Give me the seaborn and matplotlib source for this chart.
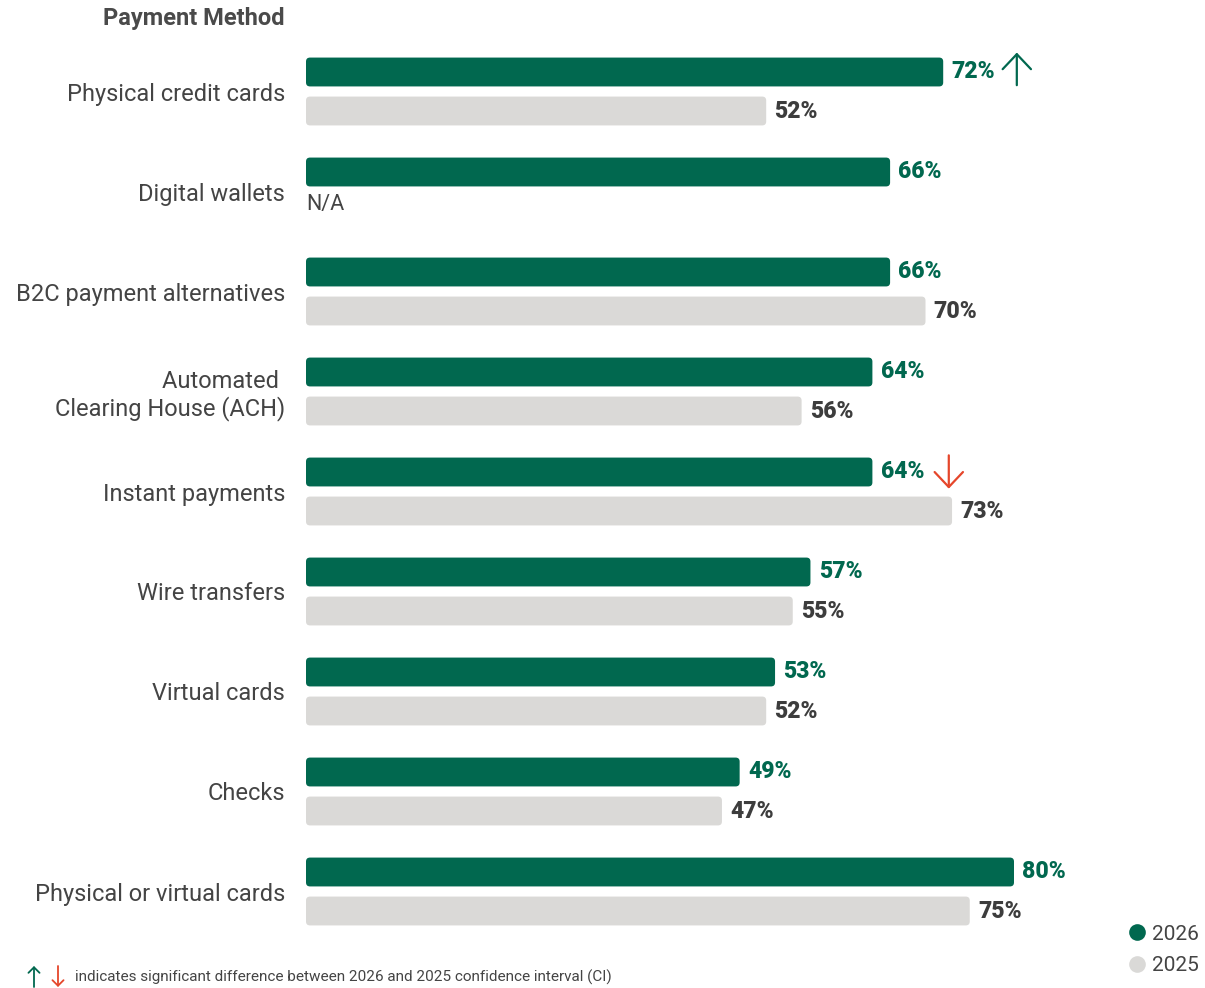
import matplotlib
matplotlib.use("Agg")
import matplotlib.pyplot as plt
import matplotlib.transforms as mtransforms
from matplotlib.patches import FancyBboxPatch, FancyArrowPatch
from matplotlib.lines import Line2D
import numpy as np
import pandas as pd
import seaborn as sns

# Survey data: share of respondents using each payment method
methods = [
    "Physical credit cards",
    "Digital wallets",
    "B2C payment alternatives",
    "Automated \nClearing House (ACH)",
    "Instant payments",
    "Wire transfers",
    "Virtual cards",
    "Checks",
    "Physical or virtual cards",
]
share_2026 = [72, 66, 66, 64, 64, 57, 53, 49, 80]
share_2025 = [52, np.nan, 70, 56, 73, 55, 52, 47, 75]
years = ["2026", "2025"]
# significant change vs. prior year: 1 = up, -1 = down, 0 = none
significance = [1, 0, 0, 0, -1, 0, 0, 0, 0]

GREEN = "#01684f"
GREY = "#dad9d7"
TEXT = "#444444"
VALUE_GREY = "#3d3d3d"
RED = "#e5462b"

sns.set_theme(style="white")
plt.rcParams["font.family"] = ["Roboto", "DejaVu Sans"]

df = pd.DataFrame({
    "method": methods * 2,
    "year": [years[0]] * len(methods) + [years[1]] * len(methods),
    "share": share_2026 + share_2025,
})

W, H = 1205, 988
fig = plt.figure(figsize=(W / 100, H / 100), dpi=100)
ax = fig.add_axes([306 / W, 46.5 / H, (1191 - 306) / W, 900 / H])

sns.barplot(
    data=df, y="method", x="share", hue="year", hue_order=years,
    order=methods, palette=[GREEN, GREY], orient="h", width=0.78, gap=0.26,
    saturation=1, errorbar=None, legend=False, ax=ax,
)

ax.set_xlim(0, 100)
ax.set_ylim(len(methods) - 0.5, -0.5)
ax.set_xlabel("")
ax.set_ylabel("")
ax.set_xticks([])
for s in ax.spines.values():
    s.set_visible(False)
ax.tick_params(axis="y", length=0, pad=15, labelsize=17, labelcolor=TEXT)
for lbl in ax.get_yticklabels():
    lbl.set_linespacing(1.15)
    lbl.set_multialignment("right")

# Swap plain rectangles for rounded bars with the same geometry
px_per_x = (1191 - 306) / 100.0
px_per_y = 900 / len(methods)
radius = 4 / px_per_x
aspect = px_per_x / px_per_y
bars = []
for p in list(ax.patches):
    x, y = p.get_x(), p.get_y()
    w, h = p.get_width(), p.get_height()
    fc = p.get_facecolor()
    p.remove()
    if not np.isfinite(w) or w <= 0:
        continue
    rb = FancyBboxPatch((x, y), w, h,
                        boxstyle=f"round,pad=0,rounding_size={radius}",
                        mutation_aspect=aspect, fc=fc, ec="none")
    ax.add_patch(rb)
    bars.append((w, y + h / 2, fc))

# Value labels at the end of each bar
green_rgba = matplotlib.colors.to_rgba(GREEN)
green_bars = []
for w, yc, fc in bars:
    is_green = np.allclose(fc, green_rgba, atol=0.02)
    ax.annotate(f"{w:.0f}%", xy=(w, yc), xytext=(6, 0), textcoords="offset points",
                ha="left", va="center", fontsize=16.5, fontweight="heavy",
                color=GREEN if is_green else VALUE_GREY)
    if is_green:
        green_bars.append((w, yc))

# Missing prior-year value
for i, v in enumerate(share_2025):
    if not np.isfinite(v):
        ax.text(0, i + 0.13, "N/A", ha="left", va="center", fontsize=15.5, color=TEXT)

# Significance arrows next to the 2026 bars
for i, sig in enumerate(significance):
    if sig == 0:
        continue
    w, yc = min(green_bars, key=lambda b: abs(b[1] - (i - 0.195)))
    col = GREEN if sig > 0 else RED
    dx = 53 if sig > 0 else 55
    top = mtransforms.offset_copy(ax.transData, fig=fig, x=dx, y=14 if sig > 0 else 12, units="points")
    bot = mtransforms.offset_copy(ax.transData, fig=fig, x=dx, y=-9.5 if sig > 0 else -12, units="points")
    head, tail = (top, bot) if sig > 0 else (bot, top)
    ax.annotate("", xy=(w, yc), xycoords=head, xytext=(w, yc), textcoords=tail,
                arrowprops=dict(arrowstyle="->,head_length=0.9,head_width=0.85",
                                color=col, lw=1.6, shrinkA=0, shrinkB=0))

# Column header
fig.text(285 / W, 1 - 19 / H, "Payment Method", ha="right", va="center",
         fontsize=17, fontweight="bold", color="#4a4a4a")

# Legend
handles = [Line2D([], [], marker="o", ls="none", markersize=12,
                  markerfacecolor=c, markeredgecolor="none") for c in (GREEN, GREY)]
fig.legend(handles, years, loc="center left", bbox_to_anchor=(1118 / W, 1 - 950 / H),
           frameon=False, fontsize=15, handlelength=0.8, handletextpad=0.35,
           labelspacing=0.6, borderpad=0, labelcolor=TEXT)

# Footnote with arrow key
for xpx, col, up in ((34, GREEN, True), (58, RED, False)):
    y0, y1 = 1 - 987 / H, 1 - 966 / H
    head, tail = ((xpx / W, y1), (xpx / W, y0)) if up else ((xpx / W, y0), (xpx / W, y1))
    fig.add_artist(FancyArrowPatch(
        tail, head, transform=fig.transFigure,
        arrowstyle="->,head_length=4,head_width=4", color=col, lw=1.3,
        shrinkA=0, shrinkB=0))
fig.text(75 / W, 1 - 977 / H,
         "indicates significant difference between 2026 and 2025 confidence interval (CI)",
         ha="left", va="center", fontsize=11, color=TEXT)

fig.savefig("out.png", dpi=100, facecolor="white")
